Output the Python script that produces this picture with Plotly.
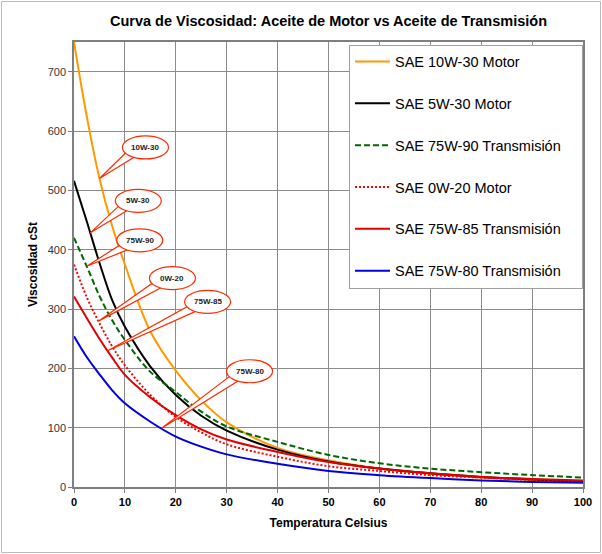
import plotly.graph_objects as go
import numpy as np

# ---------------- data ----------------
temperatura = [0, 2.5, 5, 7.5, 10, 15, 20, 25, 30, 40, 50, 60, 70, 80, 90, 100]

sae_10w30_motor = [750, 625, 520, 440, 375, 262, 196, 146, 109, 66, 45, 31, 22, 16, 12, 9]
sae_5w30_motor = [516, 448, 378, 315, 270, 203, 155, 120, 95, 63, 43, 31, 23, 17, 12.5, 9]
sae_75w90_trans = [420, 372, 322, 281, 248, 194, 160, 127, 102, 76, 54, 40, 31, 25, 20, 16]
sae_0w20_motor = [375, 320, 276, 237, 205, 155, 118, 92, 72, 51, 35, 27, 20, 16, 12, 9.5]
sae_75w85_trans = [321, 285, 250, 218, 189, 151, 121, 97, 80, 59, 42, 31, 23, 17, 13.5, 11]
sae_75w80_trans = [254, 219, 190, 163, 141, 110, 85, 68, 55, 39, 27, 20, 15, 11, 8.5, 7]

series_names = ["SAE 10W-30 Motor", "SAE 5W-30 Motor", "SAE 75W-90 Transmisión",
                "SAE 0W-20 Motor", "SAE 75W-85 Transmisión", "SAE 75W-80 Transmisión"]

callout_labels = ["10W-30", "5W-30", "75W-90", "0W-20", "75W-85", "75W-80"]
callout_x = [5, 3.2, 2.5, 4.8, 6.6, 17.2]

title_text = "Curva de Viscosidad: Aceite de Motor vs Aceite de Transmisión"
x_title = "Temperatura Celsius"
y_title = "Viscosidad cSt"

# ---------------- styles ----------------
series_values = [sae_10w30_motor, sae_5w30_motor, sae_75w90_trans,
                 sae_0w20_motor, sae_75w85_trans, sae_75w80_trans]
colors = ["#FF9900", "#000000", "#006600", "#FF0000", "#E00000", "#0000E0"]
dashes = ["solid", "solid", "6px,3px", "2px,2px", "solid", "solid"]
widths = [2, 2, 2, 2, 2, 2]
# bubble centre offsets from the tip, in pixels (right, up)
callout_offsets = [(46, 31), (48, 32), (53, 26), (74, 43), (100, 49), (88, 57)]

FONT = "Liberation Sans, Arial, sans-serif"
W, H = 602, 554
ML, MR, MT, MB = 74, 19, 42, 67
PW, PH = W - ML - MR, H - MT - MB
LEGEND_PAD = "\u00a0" * 4

fig = go.Figure()
for i, (name, vals) in enumerate(zip(series_names, series_values)):
    fig.add_trace(go.Scatter(
        x=temperatura, y=vals, name=name + LEGEND_PAD, mode="lines",
        line=dict(color=colors[i], width=widths[i], dash=dashes[i], shape="spline", smoothing=1.0),
        legendgroup=f"g{i}",
    ))

# callouts
shapes = []
annotations = []
a, b = 23, 11.5
for lab, cx, (dx, dy), vals in zip(callout_labels, callout_x, callout_offsets, series_values):
    ty = float(np.interp(cx, temperatura, vals))
    th1, th2 = np.deg2rad(200), np.deg2rad(242)
    p1 = (dx + 0.8 * a * np.cos(th1), dy + 0.8 * b * np.sin(th1))
    p2 = (dx + 0.8 * a * np.cos(th2), dy + 0.8 * b * np.sin(th2))
    shapes.append(dict(
        type="path", xref="x", yref="y", xsizemode="pixel", ysizemode="pixel",
        xanchor=cx, yanchor=ty,
        path=f"M0,0 L{p1[0]:.1f},{p1[1]:.1f} L{p2[0]:.1f},{p2[1]:.1f} Z",
        fillcolor="white", line=dict(color="#FF2A00", width=1.2), layer="above",
    ))
    shapes.append(dict(
        type="circle", xref="x", yref="y", xsizemode="pixel", ysizemode="pixel",
        xanchor=cx, yanchor=ty, x0=dx - a, x1=dx + a, y0=dy - b, y1=dy + b,
        fillcolor="white", line=dict(color="#FF2A00", width=1.2), layer="above",
    ))
    annotations.append(dict(
        x=cx, y=ty, xref="x", yref="y", xshift=dx, yshift=dy, showarrow=False,
        text=f"<b>{lab}</b>", font=dict(family=FONT, size=8, color="#222222"),
    ))

# outer frame
shapes.append(dict(
    type="rect", xref="paper", yref="paper", layer="below",
    x0=-(ML - 1.5) / PW, x1=1 + (MR - 1.5) / PW,
    y0=-(MB - 1.5) / PH, y1=1 + (MT - 1.5) / PH,
    line=dict(color="#BBBBBB", width=1), fillcolor="rgba(0,0,0,0)",
))

fig.update_layout(
    width=W, height=H,
    margin=dict(l=ML, r=MR, t=MT, b=MB, autoexpand=False),
    paper_bgcolor="white", plot_bgcolor="white",
    title=dict(text=f"<b>{title_text}</b>", x=0.5, xref="paper", y=1 - 21 / H, yanchor="middle",
               font=dict(family=FONT, size=14.5, color="#000000")),
    font=dict(family=FONT, color="#000000"),
    showlegend=True,
    legend=dict(
        x=(349 - ML) / PW, y=1 - 2.5 / PH, xanchor="left", yanchor="top",
        bgcolor="white", bordercolor="#A0A0A0", borderwidth=1,
        font=dict(family=FONT, size=14.5, color="#000000"),
        tracegroupgap=20, itemwidth=35,
    ),
    shapes=shapes,
    annotations=annotations,
)
fig.update_xaxes(
    range=[0, 100], dtick=10, tick0=0,
    showgrid=True, gridcolor="#8C8C8C", gridwidth=1,
    showline=True, linecolor="#7F7F7F", linewidth=1.5, mirror=True,
    ticks="outside", ticklen=4, tickcolor="#7F7F7F",
    tickfont=dict(family=FONT, size=11, color="#000000"),
    tickprefix="<b>", ticksuffix="</b>",
    zeroline=False,
    title=dict(text=f"<b>{x_title}</b>", font=dict(family=FONT, size=12, color="#000000"), standoff=12),
)
fig.update_yaxes(
    range=[0, 750], dtick=100, tick0=0,
    showgrid=True, gridcolor="#8C8C8C", gridwidth=1,
    showline=True, linecolor="#7F7F7F", linewidth=1.5, mirror=True,
    ticks="outside", ticklen=4, tickcolor="#7F7F7F",
    tickfont=dict(family=FONT, size=11, color="#333333"),
    zeroline=False,
    title=dict(text=f"<b>{y_title}</b>", font=dict(family=FONT, size=12, color="#000000"), standoff=7),
)

fig.write_html("out.html", config={"displayModeBar": False},
               post_script="document.body.style.margin='0';document.body.style.overflow='hidden';")
